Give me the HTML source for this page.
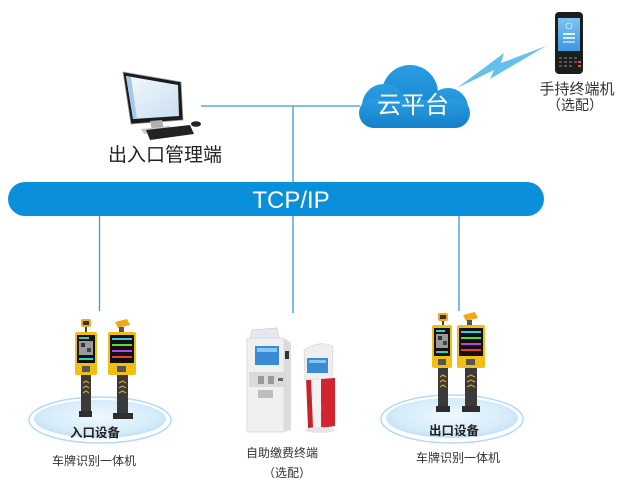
<!DOCTYPE html>
<html><head><meta charset="utf-8"><style>
html,body{margin:0;padding:0;background:#fff;}
svg{display:block;}
text{font-family:"Liberation Sans","Noto Sans CJK SC",sans-serif;}
</style></head><body>
<svg width="623" height="494" viewBox="0 0 623 494" xmlns="http://www.w3.org/2000/svg">
<defs>
<linearGradient id="cloudG" x1="0" y1="0" x2="0" y2="1">
<stop offset="0" stop-color="#2a9de2"/><stop offset="1" stop-color="#1480c9"/>
</linearGradient>
<radialGradient id="ellG" cx="0.5" cy="0.45" r="0.6">
<stop offset="0" stop-color="#eef8fe"/><stop offset="0.7" stop-color="#d6ecfa"/><stop offset="1" stop-color="#b9ddf4"/>
</radialGradient>
<linearGradient id="scrG" x1="0" y1="0" x2="1" y2="1">
<stop offset="0" stop-color="#f4f8fd"/><stop offset="1" stop-color="#c9def3"/>
</linearGradient>
<linearGradient id="phG" x1="0" y1="0" x2="0" y2="1">
<stop offset="0" stop-color="#7cc3f2"/><stop offset="1" stop-color="#3d97e0"/>
</linearGradient>
</defs>

<!-- connector lines -->
<g stroke="#3a9bd5" stroke-width="1.3" fill="none">
<line x1="201" y1="106" x2="360" y2="106"/>
<line x1="293" y1="106" x2="293" y2="183"/>
<line x1="99.5" y1="215" x2="99.5" y2="311"/>
<line x1="293" y1="215" x2="293" y2="313"/>
<line x1="459" y1="215" x2="459" y2="311"/>
</g>

<!-- TCP/IP bar -->
<rect x="8" y="182" width="536" height="34" rx="17" fill="#0a90db"/>
<text x="291" y="208" font-size="24" fill="#fff" text-anchor="middle">TCP/IP</text>

<!-- computer -->
<polygon points="123,72 181,82 183,120 131,124" fill="#1c1c1c" stroke="#9a9a9a" stroke-width="0.8"/>
<polygon points="126,76 178,85 179,116 133,119" fill="url(#scrG)"/>
<polygon points="126,76 131,77 137,119 133,119" fill="#a8c8ea"/>
<polygon points="150,121 162,120 164,129 152,130" fill="#b0b0b0"/>
<polygon points="141,129 170,126 172,131 144,134" fill="#c8c8c8"/>
<polygon points="146,130 190,125 194,134 150,140" fill="#222"/>
<ellipse cx="196" cy="124" rx="5" ry="2.8" fill="#222"/>
<text x="165" y="161" font-size="19" fill="#222" text-anchor="middle">出入口管理端</text>

<!-- cloud -->
<g fill="url(#cloudG)">
<circle cx="410" cy="93" r="28"/>
<circle cx="384" cy="106" r="22"/>
<circle cx="448" cy="108" r="20"/>
<circle cx="374" cy="113" r="15"/>
<circle cx="455" cy="113" r="15"/>
<rect x="374" y="100" width="81" height="28"/>
</g>
<text x="413" y="113" font-size="24" fill="#fff" text-anchor="middle">云平台</text>

<!-- lightning -->
<polygon points="457,88 504,53 501,63 546,46 490,79 494,70" fill="#64c1ee"/>

<!-- handheld -->
<rect x="555" y="12" width="28" height="62" rx="4" fill="#1d1d1d"/>
<rect x="558" y="18" width="22" height="33" fill="url(#phG)"/>
<rect x="563" y="33" width="12" height="2" fill="#fff" opacity="0.8"/>
<rect x="563" y="37" width="12" height="2" fill="#fff" opacity="0.8"/>
<rect x="563" y="41" width="12" height="2" fill="#9fd4fa"/>
<circle cx="569" cy="26" r="3" fill="none" stroke="#fff" stroke-width="0.6"/>
<g fill="#555">
<rect x="559" y="57" width="3" height="2"/><rect x="564" y="57" width="3" height="2"/><rect x="569" y="57" width="3" height="2"/><rect x="574" y="57" width="3" height="2"/>
<rect x="559" y="61" width="3" height="2"/><rect x="564" y="61" width="3" height="2"/><rect x="569" y="61" width="3" height="2"/><rect x="574" y="61" width="3" height="2"/>
<rect x="559" y="65" width="3" height="2"/><rect x="564" y="65" width="3" height="2"/><rect x="569" y="65" width="3" height="2"/>
</g>
<rect x="578" y="61" width="3" height="2" fill="#e8502a"/><rect x="578" y="65" width="3" height="2" fill="#e8502a"/>
<text x="577" y="94" font-size="15" fill="#333" text-anchor="middle">手持终端机</text>
<text x="575" y="110" font-size="14" fill="#333" text-anchor="middle">（选配）</text>

<!-- entrance ellipse -->
<ellipse cx="100" cy="420" rx="71" ry="23" fill="#fff" stroke="#b4dbf3" stroke-width="1.5"/>
<ellipse cx="100" cy="419" rx="66" ry="19" fill="url(#ellG)"/>
<!-- exit ellipse -->
<ellipse cx="452" cy="419" rx="71" ry="24" fill="#fff" stroke="#b4dbf3" stroke-width="1.5"/>
<ellipse cx="452" cy="418" rx="66" ry="20" fill="url(#ellG)"/>

<!-- entrance devices -->
<g>
<!-- left QR -->
<rect x="81" y="319" width="10" height="8" rx="2" fill="#f0a818"/>
<rect x="83" y="321" width="6" height="4" fill="#333"/>
<rect x="85" y="327" width="2" height="5" fill="#444"/>
<rect x="75" y="332" width="22" height="43" rx="2" fill="#f3be12"/>
<rect x="77" y="335" width="18" height="28" fill="#111"/>
<rect x="79" y="341" width="14" height="14" fill="#9a9a9a"/>
<rect x="81" y="343" width="4" height="4" fill="#333"/><rect x="87" y="348" width="4" height="4" fill="#444"/>
<rect x="79" y="337" width="10" height="2" fill="#2fd0c0"/>
<rect x="79" y="358" width="14" height="2" fill="#2fd0c0"/>
<rect x="82" y="366" width="8" height="6" fill="#555"/>
<rect x="81" y="375" width="10" height="38" fill="#3a3a3a"/>
<path d="M83,383 l3,-2 l3,2 M83,388 l3,-2 l3,2 M83,393 l3,-2 l3,2" stroke="#e5a020" stroke-width="1.2" fill="none"/>
<rect x="79" y="411" width="13" height="6" fill="#2e2e2e"/>
<!-- right LED -->
<polygon points="115,322 127,319 130,325 118,328" fill="#f0a818"/>
<rect x="119" y="327" width="5" height="5" fill="#555"/>
<rect x="108" y="332" width="28" height="43" rx="2" fill="#f3be12"/>
<rect x="110" y="335" width="24" height="28" fill="#111"/>
<rect x="112" y="338" width="20" height="2" fill="#3ec8e8"/>
<rect x="112" y="344" width="20" height="2" fill="#5bd83a"/>
<rect x="112" y="350" width="20" height="2" fill="#c040e0"/>
<rect x="112" y="356" width="20" height="2" fill="#e83a3a"/>
<rect x="117" y="366" width="9" height="6" fill="#555"/>
<rect x="117" y="375" width="11" height="38" fill="#3a3a3a"/>
<path d="M119,383 l3.5,-2 l3.5,2 M119,388 l3.5,-2 l3.5,2 M119,393 l3.5,-2 l3.5,2" stroke="#e5a020" stroke-width="1.2" fill="none"/>
<rect x="113" y="413" width="20" height="6" fill="#2e2e2e"/>
</g>

<!-- exit devices -->
<g>
<rect x="438" y="313" width="10" height="8" rx="2" fill="#f0a818"/>
<rect x="440" y="315" width="6" height="4" fill="#333"/>
<rect x="442" y="321" width="2" height="4" fill="#444"/>
<rect x="432" y="325" width="20" height="43" rx="2" fill="#f3be12"/>
<rect x="434" y="328" width="16" height="28" fill="#111"/>
<rect x="436" y="334" width="12" height="14" fill="#9a9a9a"/>
<rect x="438" y="336" width="4" height="4" fill="#333"/><rect x="443" y="341" width="4" height="4" fill="#444"/>
<rect x="436" y="330" width="9" height="2" fill="#2fd0c0"/>
<rect x="436" y="351" width="12" height="2" fill="#2fd0c0"/>
<rect x="438" y="359" width="8" height="6" fill="#555"/>
<rect x="438" y="368" width="10" height="39" fill="#3a3a3a"/>
<path d="M440,377 l3,-2 l3,2 M440,382 l3,-2 l3,2 M440,387 l3,-2 l3,2" stroke="#e5a020" stroke-width="1.2" fill="none"/>
<rect x="436" y="406" width="14" height="6" fill="#2e2e2e"/>

<polygon points="463,315 475,312 478,318 466,321" fill="#f0a818"/>
<rect x="467" y="320" width="5" height="5" fill="#555"/>
<rect x="457" y="325" width="28" height="43" rx="2" fill="#f3be12"/>
<rect x="459" y="328" width="24" height="28" fill="#111"/>
<rect x="461" y="331" width="20" height="2" fill="#3ec8e8"/>
<rect x="461" y="337" width="20" height="2" fill="#5bd83a"/>
<rect x="461" y="343" width="20" height="2" fill="#c040e0"/>
<rect x="461" y="349" width="20" height="2" fill="#e83a3a"/>
<rect x="466" y="359" width="9" height="6" fill="#555"/>
<rect x="465" y="368" width="12" height="39" fill="#3a3a3a"/>
<path d="M467,377 l4,-2 l4,2 M467,382 l4,-2 l4,2 M467,387 l4,-2 l4,2" stroke="#e5a020" stroke-width="1.2" fill="none"/>
<rect x="462" y="406" width="18" height="6" fill="#2e2e2e"/>
</g>

<text x="95" y="437" font-size="12.5" font-weight="bold" fill="#222" text-anchor="middle">入口设备</text>
<text x="454" y="435" font-size="12.5" font-weight="bold" fill="#222" text-anchor="middle">出口设备</text>
<text x="94" y="465" font-size="12" fill="#333" text-anchor="middle">车牌识别一体机</text>
<text x="458" y="462" font-size="12" fill="#333" text-anchor="middle">车牌识别一体机</text>

<!-- kiosk 1 -->
<polygon points="252,330 277,328 279,338 250,339" fill="#e6e8f0" stroke="#c5c8d2" stroke-width="0.6"/>
<rect x="247" y="338" width="37" height="94" fill="#f0f0f0" stroke="#cfcfcf" stroke-width="0.6"/>
<polygon points="284,338 291,343 291,430 284,432" fill="#dcdcdc"/>
<rect x="255" y="346" width="24" height="19" fill="#3b8ad6"/>
<rect x="257" y="348" width="20" height="4" fill="#8cc4f2"/>
<rect x="285" y="351" width="4" height="8" fill="#333"/>
<rect x="249" y="372" width="36" height="15" fill="#dadada"/>
<rect x="258" y="376" width="6" height="8" fill="#999"/><rect x="268" y="376" width="6" height="8" fill="#999"/><rect x="278" y="378" width="5" height="3" fill="#666"/>
<rect x="258" y="390" width="15" height="8" fill="#bdbdbd"/>
<!-- kiosk 2 -->
<polygon points="306,378 320,378 322,428 308,428" fill="#c9202b"/>
<polygon points="320,378 335,378 335,426 322,428" fill="#d32530"/>
<polygon points="311,378 321,378 321,428 313,428" fill="#f2f2f2"/>
<path d="M304,350 Q318,340 333,346 L332,378 L305,380 Z" fill="#eeeeee" stroke="#cfcfcf" stroke-width="0.6"/>
<rect x="307" y="358" width="21" height="15" fill="#3b8ad6"/>
<rect x="309" y="360" width="17" height="3" fill="#8cc4f2"/>
<ellipse cx="320" cy="430" rx="15" ry="3" fill="#e6e6e6"/>

<text x="282" y="457" font-size="12" fill="#333" text-anchor="middle">自助缴费终端</text>
<text x="287" y="477" font-size="12" fill="#333" text-anchor="middle">（选配）</text>
</svg>
</body></html>
